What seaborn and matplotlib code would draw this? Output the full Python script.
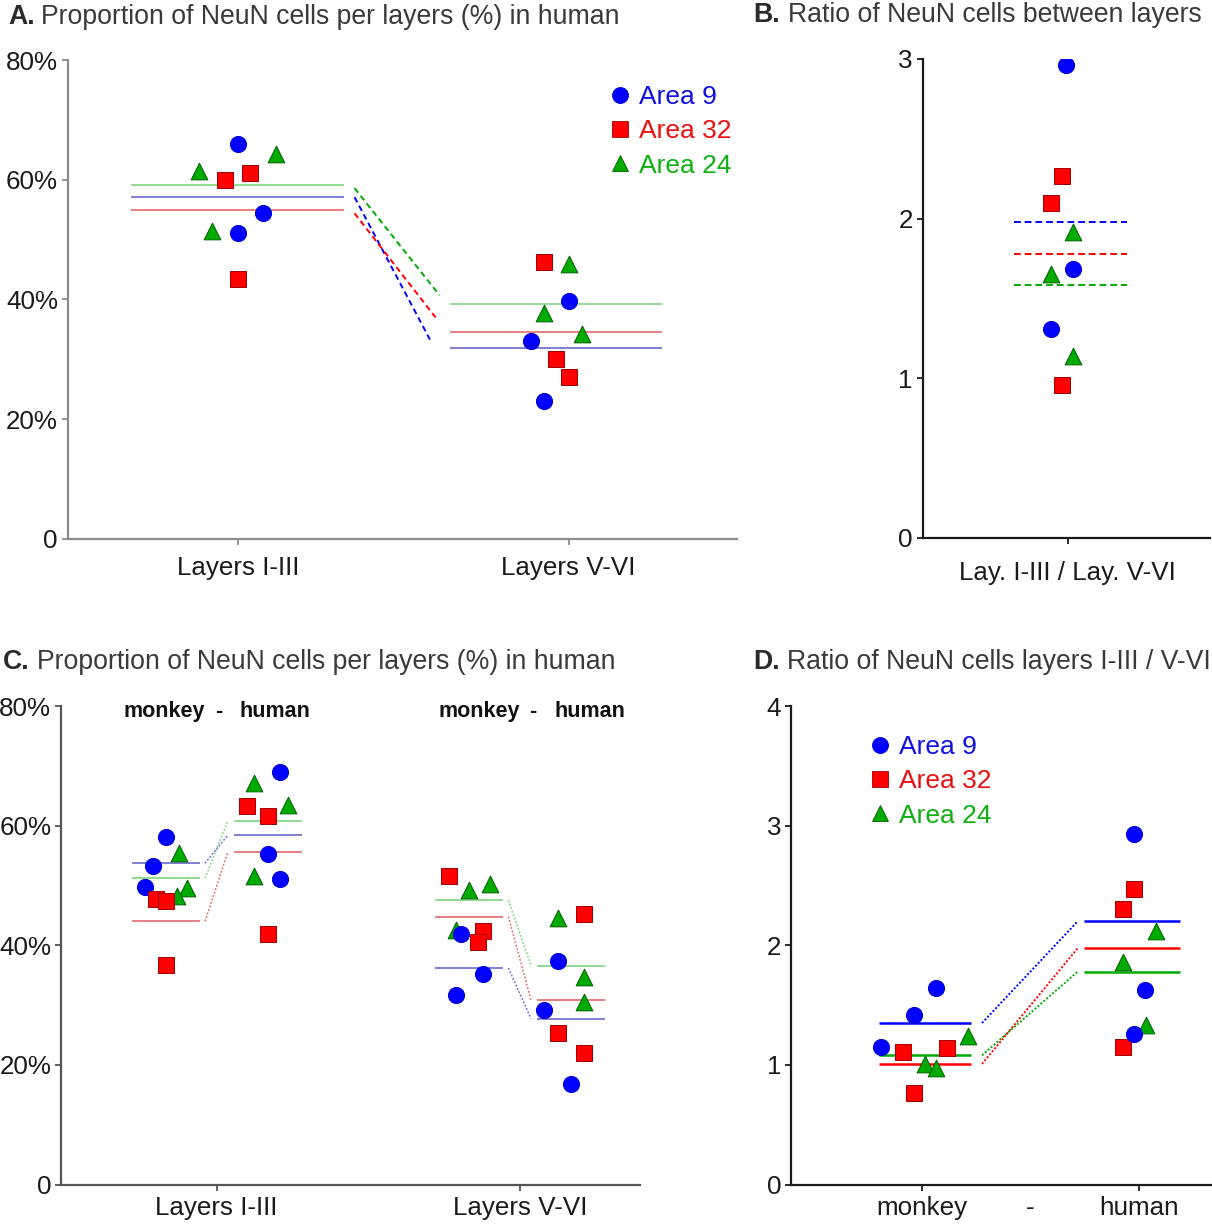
import matplotlib
matplotlib.use("Agg")
import matplotlib.pyplot as plt
import seaborn as sns
from matplotlib.lines import Line2D

sns.set_theme(style="ticks")
plt.rcParams["font.family"] = ["Liberation Sans", "DejaVu Sans"]

# ---------------- data ----------------
area_names = ["Area 9", "Area 32", "Area 24"]
layers = ["Layers I-III", "Layers V-VI"]
species = ["monkey", "human"]

# Panel A : human, % NeuN per layer (first 3 = Layers I-III, last 3 = Layers V-VI)
a_layer = [0, 0, 0, 1, 1, 1]
a_area9 = [65.9, 54.5, 51.1, 39.8, 33.1, 23.0]
a_area32 = [59.9, 61.2, 43.5, 46.3, 30.0, 27.1]
a_area24 = [61.4, 64.3, 51.5, 46.0, 37.7, 34.2]
a_mean9 = [57.2, 31.9]
a_mean32 = [55.0, 34.5]
a_mean24 = [59.1, 39.3]
a_link9 = [57.1, 33.3]
a_link32 = [54.4, 37.0]
a_link24 = [58.6, 40.7]

# Panel B : ratio layers I-III / V-VI in human
b_area9 = [2.96, 1.685, 1.311]
b_area32 = [2.266, 2.099, 0.958]
b_area24 = [1.915, 1.656, 1.138]
b_mean = [1.982, 1.776, 1.586]

# Panel C : % NeuN per layer, monkey vs human
# order: monkey I-III (3), human I-III (3), monkey V-VI (3), human V-VI (3)
c_layer = [0] * 6 + [1] * 6
c_species = [0, 0, 0, 1, 1, 1, 0, 0, 0, 1, 1, 1]
c_area9 = [58.1, 53.3, 49.7, 69.0, 55.2, 51.1, 41.9, 35.2, 31.6, 37.3, 29.1, 16.8]
c_area32 = [47.7, 47.4, 36.7, 63.3, 61.6, 41.9, 51.5, 42.4, 40.6, 45.3, 25.3, 22.0]
c_area24 = [55.4, 49.6, 48.3, 67.1, 63.5, 51.5, 49.3, 50.3, 42.6, 44.5, 34.7, 30.5]
# means: monkey I-III, human I-III, monkey V-VI, human V-VI
c_mean9 = [53.7, 58.4, 36.2, 27.7]
c_mean32 = [44.0, 55.6, 44.8, 30.8]
c_mean24 = [51.2, 60.8, 47.5, 36.6]

# Panel D : ratio I-III / V-VI, monkey vs human
d_species = [0, 0, 0, 1, 1, 1]
d_area9 = [1.15, 1.42, 1.64, 2.93, 1.63, 1.26]
d_area32 = [1.11, 1.14, 0.766, 2.47, 2.30, 1.15]
d_area24 = [1.008, 0.97, 1.244, 2.115, 1.86, 1.336]
d_mean9 = [1.35, 2.20]
d_mean32 = [1.008, 1.975]
d_mean24 = [1.08, 1.78]

# ---------------- positions / styles ----------------
a_dx = {"Area 9": [0.0, 0.076, 0.0, 0.0, -0.115, -0.075],
        "Area 32": [-0.040, 0.037, 0.0, -0.075, -0.037, 0.0],
        "Area 24": [-0.117, 0.115, -0.079, 0.0, -0.075, 0.039]}
b_dx = {"Area 9": [-0.008, 0.023, -0.078],
        "Area 32": [-0.028, -0.078, -0.028],
        "Area 24": [0.023, -0.078, 0.023]}
c_dx = {"Area 9": [0, -0.044, -0.068, 0.042, 0, 0.042, -0.028, 0.044, -0.044, -0.044, -0.088, 0],
        "Area 32": [-0.033, 0, 0, -0.069, 0, 0, -0.068, 0.044, 0.028, 0.044, -0.044, 0.044],
        "Area 24": [0.044, 0.071, 0.035, -0.044, 0.068, -0.044, 0, 0.068, -0.045, -0.044, 0.044, 0.044]}
d_dx = {"Area 9": [-0.185, -0.034, 0.066, -0.022, 0.027, -0.022],
        "Area 32": [-0.085, 0.115, -0.034, -0.022, -0.072, -0.072],
        "Area 24": [0.015, 0.064, 0.214, 0.078, -0.072, 0.031]}

colors = {"Area 9": "#0000ff", "Area 32": "#ff0000", "Area 24": "#00aa00"}
edges = {"Area 9": "#0000d0", "Area 32": "#a00000", "Area 24": "#006000"}
light = {"Area 9": "#6a6ad0", "Area 32": "#e26a6a", "Area 24": "#7fd47f"}
text_col = {"Area 9": "#1010e0", "Area 32": "#e81010", "Area 24": "#10b010"}
markers = {"Area 9": "o", "Area 32": "s", "Area 24": "^"}
sizes = {"Area 9": 135, "Area 32": 125, "Area 24": 145}

W, H = 1212, 1225
fig = plt.figure(figsize=(W / 100, H / 100), dpi=100)


def add_ax(x0, x1, ytop, ybot):
    return fig.add_axes([x0 / W, 1 - ybot / H, (x1 - x0) / W, (ybot - ytop) / H])


def style(ax, spine_color, xpad):
    for s in ["top", "right"]:
        ax.spines[s].set_visible(False)
    for s in ["left", "bottom"]:
        ax.spines[s].set_color(spine_color)
        ax.spines[s].set_linewidth(1.6)
    ax.tick_params(axis="both", direction="out", length=4.5, width=1.3,
                   color=spine_color, labelsize=18.7, labelcolor="#1a1a1a")
    ax.tick_params(axis="y", pad=2.5)
    ax.tick_params(axis="x", pad=xpad)
    ax.grid(False)


def pts(ax, xs, ys, area):
    sns.scatterplot(x=xs, y=ys, ax=ax, marker=markers[area], color=colors[area],
                    edgecolor=edges[area], linewidth=0.7, s=sizes[area],
                    legend=False, zorder=4)


def legend(ax, bx, by):
    handles = [Line2D([], [], ls="", marker=markers[a], markerfacecolor=colors[a],
                      markeredgecolor=edges[a], markeredgewidth=0.6, markersize=11.5)
               for a in area_names]
    ax.legend(handles, area_names, loc="upper left", bbox_to_anchor=(bx, by),
              frameon=False, fontsize=19, handlelength=0.8, handletextpad=0.3,
              borderpad=0, borderaxespad=0, labelspacing=0.39,
              labelcolor=[text_col[a] for a in area_names])


def title(x_letter, x_rest, y, letter, rest):
    fig.text(x_letter / W, 1 - y / H, letter, fontsize=19.2, fontweight="bold",
             color="#2a2a2a", va="center", ha="left")
    fig.text(x_rest / W, 1 - y / H, rest, fontsize=19.2, color="#3a3a3a",
             va="center", ha="left")


# ---------------- Panel A ----------------
axA = add_ax(67.7, 737, 60, 539)
a_data = {"Area 9": a_area9, "Area 32": a_area32, "Area 24": a_area24}
a_means = {"Area 9": a_mean9, "Area 32": a_mean32, "Area 24": a_mean24}
a_links = {"Area 9": a_link9, "Area 32": a_link32, "Area 24": a_link24}
a_link_end = {"Area 9": 0.581, "Area 32": 0.598, "Area 24": 0.61}
for a in ["Area 24", "Area 9", "Area 32"]:
    m = a_means[a]
    axA.hlines(m[0], -0.322, 0.321, color=light[a], lw=1.2, zorder=2)
    axA.hlines(m[1], 1 - 0.359, 1 + 0.282, color=light[a], lw=1.2, zorder=2)
    axA.plot([0.353, a_link_end[a]], a_links[a], color=colors[a], lw=1.4,
             ls=(0, (3, 2)), zorder=2)
for a in ["Area 24", "Area 9", "Area 32"]:
    xs = [l + d for l, d in zip(a_layer, a_dx[a])]
    pts(axA, xs, a_data[a], a)
axA.set_xlim(-0.514, 1.509)
axA.set_ylim(0, 80)
axA.set_xticks([0, 1])
axA.set_xticklabels(layers)
axA.set_yticks([0, 20, 40, 60, 80])
axA.set_yticklabels(["0", "20%", "40%", "60%", "80%"])
style(axA, "#8c8c8c", 8)
legend(axA, 0.8095, 0.9475)
title(8, 41, 17, "A.", "Proportion of NeuN cells per layers (%) in human")

# ---------------- Panel B ----------------
axB = add_ax(922.7, 1210, 59, 538)
b_data = {"Area 9": b_area9, "Area 32": b_area32, "Area 24": b_area24}
for a, m in zip(area_names, b_mean):
    axB.hlines(m, -0.247, 0.272, color=colors[a], lw=1.4, ls=(0, (3.5, 2)), zorder=2)
for a in ["Area 24", "Area 9", "Area 32"]:
    pts(axB, b_dx[a], b_data[a], a)
axB.set_xlim(-0.667, 0.655)
axB.set_ylim(0, 3)
axB.set_xticks([0])
axB.set_xticklabels(["Lay. I-III / Lay. V-VI"])
axB.set_yticks([0, 1, 2, 3])
style(axB, "#1a1a1a", 12)
title(753, 788, 15, "B.", "Ratio of NeuN cells between layers")

# ---------------- Panel C ----------------
axC = add_ax(61, 640, 706, 1184.5)
c_data = {"Area 9": c_area9, "Area 32": c_area32, "Area 24": c_area24}
c_means = {"Area 9": c_mean9, "Area 32": c_mean32, "Area 24": c_mean24}
sp_off = [-0.167, 0.168]
for a in ["Area 24", "Area 9", "Area 32"]:
    m = c_means[a]
    for li in range(2):
        mk, hu = m[2 * li], m[2 * li + 1]
        axC.hlines(mk, li + sp_off[0] - 0.112, li + sp_off[0] + 0.112,
                   color=light[a], lw=1.2, zorder=2)
        axC.hlines(hu, li + sp_off[1] - 0.112, li + sp_off[1] + 0.112,
                   color=light[a], lw=1.2, zorder=2)
        axC.plot([li - 0.038, li + 0.037], [mk, hu], color=light[a], lw=1.1,
                 ls=(0, (1.2, 1.2)), zorder=2)
for a in ["Area 24", "Area 9", "Area 32"]:
    xs = [l + sp_off[s] + d for l, s, d in zip(c_layer, c_species, c_dx[a])]
    pts(axC, xs, c_data[a], a)
for li, (xm, xd, xh) in enumerate([(-0.173, 0.008, 0.193), (-0.133, 0.043, 0.231)]):
    for x, t in [(xm, "monkey"), (xd, "-"), (xh, "human")]:
        axC.text(li + x, 79, t, ha="center", va="center", fontsize=15.5,
                 fontweight="bold", color="#111111")
axC.set_xlim(-0.513, 1.396)
axC.set_ylim(0, 80)
axC.set_xticks([0, 1])
axC.set_xticklabels(layers)
axC.set_yticks([0, 20, 40, 60, 80])
axC.set_yticklabels(["0", "20%", "40%", "60%", "80%"])
style(axC, "#555555", 4)
title(3, 37, 662, "C.", "Proportion of NeuN cells per layers (%) in human")

# ---------------- Panel D ----------------
axD = add_ax(791, 1212, 706, 1184.5)
d_data = {"Area 9": d_area9, "Area 32": d_area32, "Area 24": d_area24}
d_means = {"Area 9": d_mean9, "Area 32": d_mean32, "Area 24": d_mean24}
for a in ["Area 24", "Area 32", "Area 9"]:
    m = d_means[a]
    axD.hlines(m[0], -0.195, 0.227, color=colors[a], lw=1.8, zorder=2)
    axD.hlines(m[1], 1 - 0.251, 1 + 0.189, color=colors[a], lw=1.8, zorder=2)
    axD.plot([0.278, 0.718], m, color=colors[a], lw=1.4, ls=(0, (1, 1)), zorder=2)
for a in ["Area 24", "Area 32", "Area 9"]:
    xs = [s + d for s, d in zip(d_species, d_dx[a])]
    pts(axD, xs, d_data[a], a)
axD.set_xlim(-0.601, 1.336)
axD.set_ylim(0, 4)
axD.set_xticks([0, 0.5, 1])
axD.set_xticklabels(["monkey", "-", "human"])
axD.set_yticks([0, 1, 2, 3, 4])
style(axD, "#1a1a1a", 4)
axD.xaxis.get_major_ticks()[1].tick1line.set_visible(False)
legend(axD, 0.1865, 0.9395)
title(753, 787, 662, "D.", "Ratio of NeuN cells layers I-III / V-VI")

fig.savefig("out.png", dpi=100)
